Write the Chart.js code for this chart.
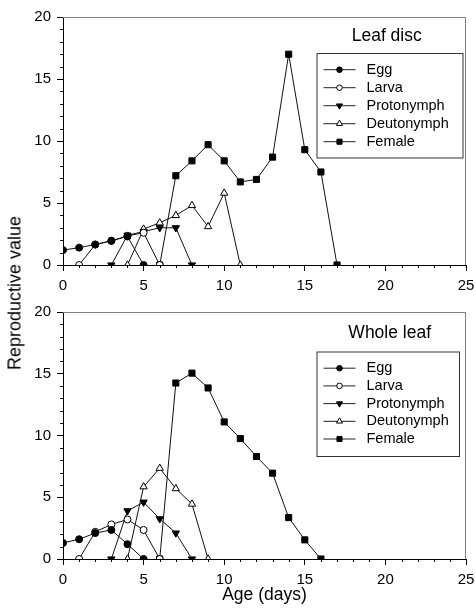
<!DOCTYPE html>
<html>
<head>
<meta charset="utf-8">
<script src="https://cdn.jsdelivr.net/npm/chart.js@4"></script>
<style>
  body { margin: 0; background: #fff; width: 475px; height: 610px; position: relative; overflow: hidden; }
  canvas { position: absolute; left: 0; }
  #top { top: 0; }
  #bottom { top: 290px; }
  .ytitle {
    position: absolute;
    left: 15px;
    top: 293px;
    transform: translate(-50%, -50%) rotate(-90deg);
    font-family: 'Liberation Sans', Arial, sans-serif;
    font-size: 18px;
    white-space: nowrap;
    color: #000;
  }
</style>
</head>
<body>
<canvas id="top" width="475" height="290"></canvas>
<canvas id="bottom" width="475" height="320"></canvas>
<div class="ytitle">Reproductive value</div>
<script>
const FONT = "'Liberation Sans', Arial, sans-serif";

const stageNames = ['Egg', 'Larva', 'Protonymph', 'Deutonymph', 'Female'];

// Leaf disc
const discEggAge = [0, 1, 2, 3, 4, 5];
const discEgg = [1.2, 1.4, 1.65, 1.95, 2.3, 0];
const discLarvaAge = [1, 2, 3, 4, 5, 6];
const discLarva = [0, 1.65, 1.95, 2.35, 2.6, 0];
const discProtoAge = [3, 4, 5, 6, 7, 8];
const discProto = [0, 2.4, 2.7, 3.0, 3.0, 0];
const discDeutoAge = [4, 5, 6, 7, 8, 9, 10, 11];
const discDeuto = [0, 2.9, 3.4, 4.0, 4.8, 3.1, 5.8, 0];
const discFemaleAge = [6, 7, 8, 9, 10, 11, 12, 13, 14, 15, 16, 17];
const discFemale = [0, 7.2, 8.4, 9.7, 8.4, 6.7, 6.9, 8.7, 17.0, 9.3, 7.5, 0];

// Whole leaf
const leafEggAge = [0, 1, 2, 3, 4, 5];
const leafEgg = [1.3, 1.6, 2.1, 2.35, 1.2, 0];
const leafLarvaAge = [1, 2, 3, 4, 5, 6];
const leafLarva = [0, 2.2, 2.8, 3.2, 2.35, 0];
const leafProtoAge = [3, 4, 5, 6, 7, 8];
const leafProto = [0, 3.9, 4.6, 3.25, 2.1, 0];
const leafDeutoAge = [4, 5, 6, 7, 8, 9];
const leafDeuto = [0, 5.85, 7.35, 5.7, 4.45, 0];
const leafFemaleAge = [6, 7, 8, 9, 10, 11, 12, 13, 14, 15, 16];
const leafFemale = [0, 14.25, 15.05, 13.85, 11.1, 9.75, 8.3, 6.95, 3.35, 1.55, 0];

// marker style per stage
const markers = [
  { pointStyle: 'circle', radius: 3.5, rotation: 0, fill: '#000' },
  { pointStyle: 'circle', radius: 3.5, rotation: 0, fill: '#fff' },
  { pointStyle: 'triangle', radius: 4.2, rotation: 180, fill: '#000' },
  { pointStyle: 'triangle', radius: 4.2, rotation: 0, fill: '#fff' },
  { pointStyle: 'rect', radius: 4.3, rotation: 0, fill: '#000' }
];

function toPoints(ages, vals) {
  return ages.map((a, i) => ({ x: a, y: vals[i] }));
}

function makeDatasets(series) {
  return series.map((s, i) => ({
    label: stageNames[i],
    data: toPoints(s[0], s[1]),
    borderColor: '#111',
    borderWidth: 1,
    pointStyle: markers[i].pointStyle,
    pointRadius: markers[i].radius,
    pointRotation: markers[i].rotation,
    pointBackgroundColor: markers[i].fill,
    pointBorderColor: '#000',
    pointBorderWidth: 1,
    tension: 0
  }));
}

// frame, minor ticks and the in-plot legend
const panelPlugin = {
  id: 'panel',
  afterDraw(chart, args, opts) {
    const { ctx, chartArea: a, scales: { x, y } } = chart;
    ctx.save();
    ctx.lineWidth = 1;
    ctx.strokeStyle = '#808080';
    ctx.beginPath();
    ctx.moveTo(a.left, a.top + 0.5);
    ctx.lineTo(a.right - 0.5, a.top + 0.5);
    ctx.lineTo(a.right - 0.5, a.bottom);
    ctx.stroke();

    ctx.strokeStyle = '#000';
    ctx.beginPath();
    for (let v = 0; v <= 25; v++) {
      if (v % 5 === 0) continue;
      const px = Math.round(x.getPixelForValue(v)) + 0.5;
      ctx.moveTo(px, a.bottom);
      ctx.lineTo(px, a.bottom + 3);
    }
    for (let v = 0; v <= 20; v++) {
      if (v % 5 === 0) continue;
      const py = Math.round(y.getPixelForValue(v)) + 0.5;
      ctx.moveTo(a.left, py);
      ctx.lineTo(a.left - 3, py);
    }
    ctx.stroke();

    // legend box
    const b = opts.box;
    ctx.fillStyle = '#fff';
    ctx.fillRect(b.x, b.y, b.w, b.h);
    ctx.strokeStyle = '#333';
    ctx.strokeRect(b.x + 0.5, b.y + 0.5, b.w, b.h);

    ctx.fillStyle = '#000';
    ctx.font = '17.5px ' + FONT;
    ctx.textAlign = 'center';
    ctx.textBaseline = 'middle';
    ctx.fillText(opts.title, opts.titleX, opts.titleY);

    ctx.font = '14.5px ' + FONT;
    ctx.textAlign = 'left';
    chart.data.datasets.forEach((ds, i) => {
      const ly = b.y + 16.7 + i * opts.step;
      ctx.strokeStyle = '#222';
      ctx.beginPath();
      ctx.moveTo(b.x + 7, ly);
      ctx.lineTo(b.x + 39, ly);
      ctx.stroke();
      ctx.fillStyle = markers[i].fill;
      ctx.strokeStyle = '#000';
      Chart.helpers.drawPoint(ctx, {
        pointStyle: markers[i].pointStyle,
        radius: markers[i].radius - 0.7,
        rotation: markers[i].rotation,
        borderWidth: 1
      }, b.x + 23, ly);
      ctx.fillStyle = '#000';
      ctx.fillText(ds.label, b.x + 50, ly);
    });
    ctx.restore();
  }
};

function makeChart(id, datasets, opt) {
  return new Chart(document.getElementById(id), {
    type: 'line',
    data: { datasets },
    plugins: [panelPlugin],
    options: {
      responsive: false,
      animation: false,
      devicePixelRatio: 1,
      layout: { padding: { top: opt.padTop, right: 9, left: 0, bottom: 0 } },
      plugins: {
        legend: { display: false },
        tooltip: { enabled: false },
        panel: opt.panel
      },
      scales: {
        x: {
          type: 'linear',
          min: 0,
          max: 25,
          ticks: { stepSize: 5, color: '#000', padding: 6, maxRotation: 0, font: { family: FONT, size: 15 } },
          grid: { drawOnChartArea: false, tickLength: 6, color: '#000' },
          border: { color: '#000', width: 1 },
          title: {
            display: opt.xTitle,
            text: 'Age (days)',
            color: '#000',
            font: { family: FONT, size: 17.5 },
            padding: { top: 0, bottom: 4.5 }
          },
          afterFit(s) { s.height = opt.xHeight; s.paddingLeft = 0; s.paddingRight = 0; }
        },
        y: {
          min: 0,
          max: 20,
          ticks: { stepSize: 5, color: '#000', padding: 6, font: { family: FONT, size: 15 } },
          grid: { drawOnChartArea: false, tickLength: 6, color: '#000' },
          border: { color: '#000', width: 1 },
          afterFit(s) { s.width = 63; s.paddingTop = 0; s.paddingBottom = 0; }
        }
      }
    }
  });
}

makeChart('top', makeDatasets([
  [discEggAge, discEgg],
  [discLarvaAge, discLarva],
  [discProtoAge, discProto],
  [discDeutoAge, discDeuto],
  [discFemaleAge, discFemale]
]), {
  padTop: 17,
  xHeight: 25,
  xTitle: false,
  panel: { title: 'Leaf disc', titleX: 386.7, titleY: 36, step: 18, box: { x: 316.5, y: 53, w: 146, h: 104.5 } }
});

makeChart('bottom', makeDatasets([
  [leafEggAge, leafEgg],
  [leafLarvaAge, leafLarva],
  [leafProtoAge, leafProto],
  [leafDeutoAge, leafDeuto],
  [leafFemaleAge, leafFemale]
]), {
  padTop: 22,
  xHeight: 51,
  xTitle: true,
  panel: { title: 'Whole leaf', titleX: 389.7, titleY: 42.7, step: 17.7, box: { x: 316.5, y: 61.5, w: 142.5, h: 104.5 } }
});
</script>
</body>
</html>
